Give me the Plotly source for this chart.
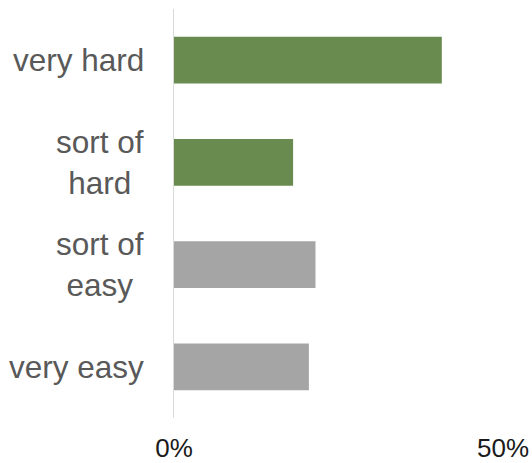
import plotly.graph_objects as go

categories = ["very hard", "sort of hard", "sort of easy", "very easy"]
labels = ["very hard", "sort of<br>hard", "sort of<br>easy", "very easy"]
values = [40.7, 18.1, 21.5, 20.5]
colors = ["#6A8B4F", "#6A8B4F", "#A5A5A5", "#A5A5A5"]
tick_vals = [0, 50]
tick_text = ["0%", "50%"]

fig = go.Figure(go.Bar(
    y=categories, x=values, orientation="h",
    marker=dict(color=colors, line=dict(width=0)),
    hoverinfo="skip",
))

for cat, lab in zip(categories, labels):
    fig.add_annotation(
        x=0, xref="paper", y=cat, yref="y",
        text=lab, showarrow=False, xanchor="right", yanchor="middle",
        align="center", xshift=-28,
        font=dict(family="Liberation Sans, Arial", size=31.5, color="#595959"),
    )

fig.update_layout(
    width=532, height=463,
    margin=dict(l=174, r=29, t=9, b=45),
    paper_bgcolor="white", plot_bgcolor="white",
    bargap=0.545, showlegend=False,
    xaxis=dict(range=[0, 50], tickvals=tick_vals, ticktext=tick_text,
               showgrid=False, zeroline=False, showline=False,
               ticks="", ticklabelstandoff=12, automargin=False,
               tickfont=dict(family="Liberation Sans, Arial", size=26, color="#1a1a1a")),
    yaxis=dict(categoryorder="array", categoryarray=categories[::-1],
               showticklabels=False, showgrid=False, zeroline=False, automargin=False,
               showline=True, linecolor="#D9D9D9", linewidth=1.5, ticks=""),
)

fig.write_html(
    "out.html",
    config={"displayModeBar": False, "staticPlot": True},
    post_script="document.body.style.margin='0';document.body.style.overflow='hidden';",
)
